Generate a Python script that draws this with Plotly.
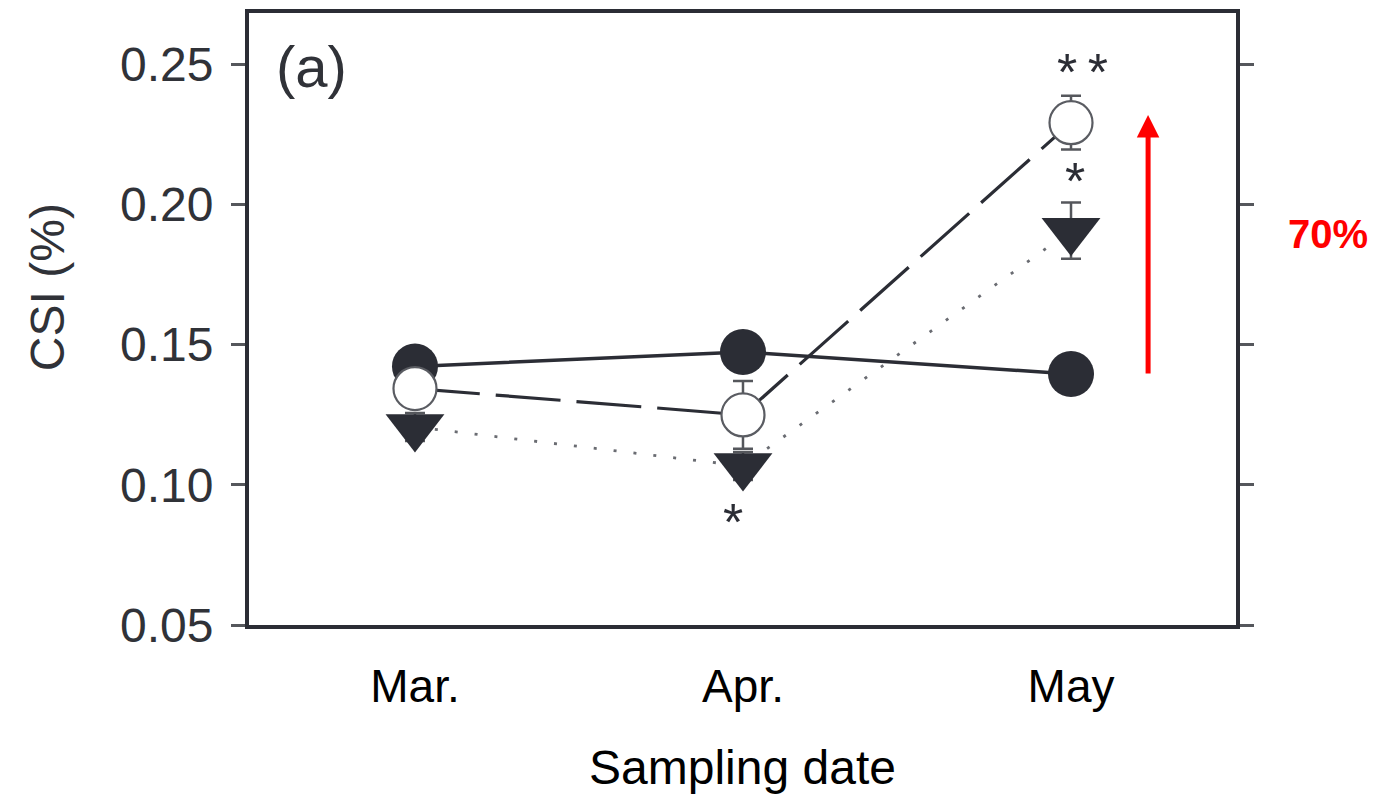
import plotly.graph_objects as go

# ---- data ----
months = ["Mar.", "Apr.", "May"]
x_pos = [0, 1, 2]
filled_circle = [0.1422, 0.1473, 0.1395]
filled_circle_err = [0.004, 0.004, 0.004]
open_circle = [0.1343, 0.1249, 0.2291]
open_circle_err = [0.005, 0.0121, 0.0096]
triangle = [0.1206, 0.1067, 0.1906]
triangle_err = [0.005, 0.005, 0.010]
y_ticks = [0.05, 0.10, 0.15, 0.20, 0.25]
y_tick_text = ["0.05", "0.10", "0.15", "0.20", "0.25"]

DARK = "#2b2d35"
FONT = "Liberation Sans, Arial, sans-serif"

fig = go.Figure()

fig.add_trace(go.Scatter(
    x=x_pos, y=filled_circle, mode="lines+markers",
    line=dict(color=DARK, width=3.5, dash="solid"),
    marker=dict(symbol="circle", size=46, color=DARK, line=dict(width=0)),
    error_y=dict(type="data", array=filled_circle_err, color="#55575c", thickness=2, width=10),
    showlegend=False, hoverinfo="skip"))

fig.add_trace(go.Scatter(
    x=x_pos, y=open_circle, mode="lines+markers",
    line=dict(color=DARK, width=3.2, dash="65px,16px"),
    marker=dict(symbol="circle", size=43, color="white", line=dict(width=2.2, color="#5a5c62")),
    error_y=dict(type="data", array=open_circle_err, color="#55575c", thickness=2.5, width=10),
    showlegend=False, hoverinfo="skip"))

fig.add_trace(go.Scatter(
    x=x_pos, y=triangle, mode="lines+markers",
    line=dict(color="#6a6c72", width=2.8, dash="3px,17px"),
    marker=dict(symbol="triangle-down", size=51, color=DARK, line=dict(width=0)),
    error_y=dict(type="data", array=triangle_err, color="#55575c", thickness=2.5, width=10),
    showlegend=False, hoverinfo="skip"))

star_font = dict(family=FONT, size=52, color=DARK)
annotations = [
    dict(x=2.034, y=0.2493, xref="x", yref="y", text="*\u2009*", showarrow=False,
         xanchor="center", yanchor="middle", font=star_font, yshift=-6),
    dict(x=2.012, y=0.2104, xref="x", yref="y", text="*", showarrow=False,
         xanchor="center", yanchor="middle", font=star_font, yshift=-6),
    dict(x=0.970, y=0.0889, xref="x", yref="y", text="*", showarrow=False,
         xanchor="center", yanchor="middle", font=star_font, yshift=-6),
    dict(x=0.0638, y=0.912, xref="paper", yref="paper", text="(a)", showarrow=False,
         xanchor="center", yanchor="middle",
         font=dict(family=FONT, size=58, color="#303238")),
    dict(x=1.093, y=0.639, xref="paper", yref="paper", text="<b>70%</b>", showarrow=False,
         xanchor="center", yanchor="middle",
         font=dict(family=FONT, size=40, color="#ff0000")),
    dict(x=-0.2047, y=0.552, xref="paper", yref="paper", text="CSI (%)", showarrow=False,
         xanchor="center", yanchor="middle",
         textangle=-90, font=dict(family=FONT, size=48, color="#303238")),
    dict(x=2.235, y=0.2318, xref="x", yref="y", ax=2.235, ay=0.1391, axref="x", ayref="y",
         text="", showarrow=True, arrowhead=2, arrowsize=0.9, arrowwidth=5,
         arrowcolor="#ff0000", standoff=0),
]

fig.update_layout(
    width=1395, height=794,
    margin=dict(l=249, r=159, t=13, b=169, autoexpand=False),
    paper_bgcolor="white", plot_bgcolor="white",
    font=dict(family=FONT, color=DARK),
    annotations=annotations,
    xaxis=dict(
        range=[-0.506, 2.503], tickvals=x_pos, ticktext=months,
        showgrid=False, zeroline=False, showline=True, mirror=True,
        linecolor=DARK, linewidth=4, ticks="", automargin=False,
        tickfont=dict(family=FONT, size=46, color="#000000"),
        ticklabelstandoff=18,
        title=dict(text="Sampling date", font=dict(family=FONT, size=48, color="#000000"), standoff=42),
    ),
    yaxis=dict(
        range=[0.05, 0.2682], tickvals=y_ticks, ticktext=y_tick_text,
        showgrid=False, zeroline=False, showline=True, mirror="ticks",
        linecolor=DARK, linewidth=4, ticks="outside", ticklen=14, tickwidth=3, tickcolor="#55575c",
        tickfont=dict(family=FONT, size=48, color="#303238"), automargin=False,
        ticklabelstandoff=8,
    ),
)

fig.write_html("out.html")
